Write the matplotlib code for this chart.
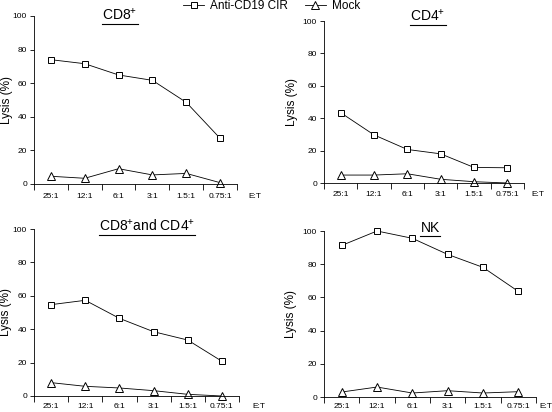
import matplotlib
matplotlib.use('Agg')
import matplotlib.pyplot as plt
from matplotlib.lines import Line2D
import numpy as np

plt.rcParams['font.family'] = ['Liberation Sans', 'DejaVu Sans']
plt.rcParams['mathtext.fontset'] = 'custom'
plt.rcParams['mathtext.rm'] = 'Liberation Sans'
plt.rcParams['mathtext.default'] = 'regular'

# --- data ---
ratios = ['25:1', '12:1', '6:1', '3:1', '1.5:1', '0.75:1']
titles = ['CD8$^{+}$', 'CD4$^{+}$', 'CD8$^{+}$and CD4$^{+}$', 'NK']

cir_cd8 = [74.0, 71.6, 64.9, 61.7, 48.6, 27.2]
mock_cd8 = [4.6, 3.4, 9.1, 5.4, 6.3, 0.8]
cir_cd4 = [43.4, 29.7, 20.7, 18.0, 9.6, 9.4]
mock_cd4 = [4.9, 4.9, 5.7, 2.3, 0.8, 0.0]
cir_both = [54.7, 57.3, 46.5, 38.5, 33.5, 20.8]
mock_both = [8.0, 5.8, 4.8, 3.2, 1.0, 0.0]
cir_nk = [91.3, 100.0, 95.6, 85.9, 78.1, 63.6]
mock_nk = [3.0, 6.0, 2.4, 3.8, 2.4, 3.2]

cir_all = [cir_cd8, cir_cd4, cir_both, cir_nk]
mock_all = [mock_cd8, mock_cd4, mock_both, mock_nk]

W, H = 552, 412
fig = plt.figure(figsize=(W / 100, H / 100), dpi=100)

# panel boxes in pixels: left, top, right, bottom
boxes = [(34, 16, 237, 184), (324, 21, 524, 183),
         (34, 229, 239, 396), (324, 231, 536, 397)]
# title centre, y-label centre x, E:T start x and label pad, in pixels
title_pos = [(120, 15), (428, 16), (147, 226), (430, 228)]
ylab_x = [7, 292, 6, 291]
et_x = [248, 531, 252, 539]
lab_pad = [12, 12, 10.5, 9.5]

x = np.arange(len(ratios))
titles_txt = []
for i, (l, t, r, b) in enumerate(boxes):
    ax = fig.add_axes([l / W, 1 - b / H, (r - l) / W, (b - t) / H])
    ax.plot(x, cir_all[i], color='black', lw=0.6, marker='s', ms=5,
            mfc='white', mec='black', mew=0.7, clip_on=False,
            label='Anti-CD19 CIR')
    ax.plot(x, mock_all[i], color='black', lw=0.6, marker='^', ms=5.5,
            mfc='white', mec='black', mew=0.7, clip_on=False, label='Mock')
    ax.set_xlim(-0.5, len(ratios) - 0.5)
    ax.set_ylim(0, 100)
    ax.set_yticks(range(0, 101, 20))
    ax.set_xticks(x, ratios)
    ax.set_xticks(np.arange(-0.5, len(ratios)), minor=True)
    ax.tick_params(axis='x', which='major', length=0, labelsize=6,
                   pad=(lab_pad[i] - 3.5) * 0.72)
    ax.tick_params(axis='x', which='minor', length=4, width=0.6)
    ax.tick_params(axis='y', length=3, width=0.6, pad=2, labelsize=6)
    for s in ['top', 'right']:
        ax.spines[s].set_visible(False)
    for s in ['left', 'bottom']:
        ax.spines[s].set_linewidth(0.6)
    ax.set_ylabel('Lysis (%)', fontsize=8.5, va='center')
    ax.yaxis.set_label_coords((ylab_x[i] - l) / (r - l), 0.5)
    fig.text(et_x[i] / W, 1 - (b + lab_pad[i]) / H, 'E:T', fontsize=6,
             ha='left', va='center')
    tx, ty = title_pos[i]
    titles_txt.append(fig.text(tx / W, 1 - ty / H, titles[i], fontsize=10,
                               ha='center', va='center'))
    if i == 0:
        handles, labels = ax.get_legend_handles_labels()

fig.legend(handles, labels, loc='center', bbox_to_anchor=(0.492, 1 - 6 / H),
           ncol=2, frameon=False, fontsize=8.5, handlelength=1.8,
           handletextpad=0.5, columnspacing=1.4, borderpad=0)

# underline the panel titles
fig.canvas.draw()
renderer = fig.canvas.get_renderer()
for txt in titles_txt:
    bb = txt.get_window_extent(renderer)
    y0 = bb.y0 - 1
    fig.add_artist(Line2D([bb.x0 / W, bb.x1 / W], [y0 / H, y0 / H],
                          transform=fig.transFigure, color='black', lw=0.8))

fig.savefig('out.png', dpi=100)
